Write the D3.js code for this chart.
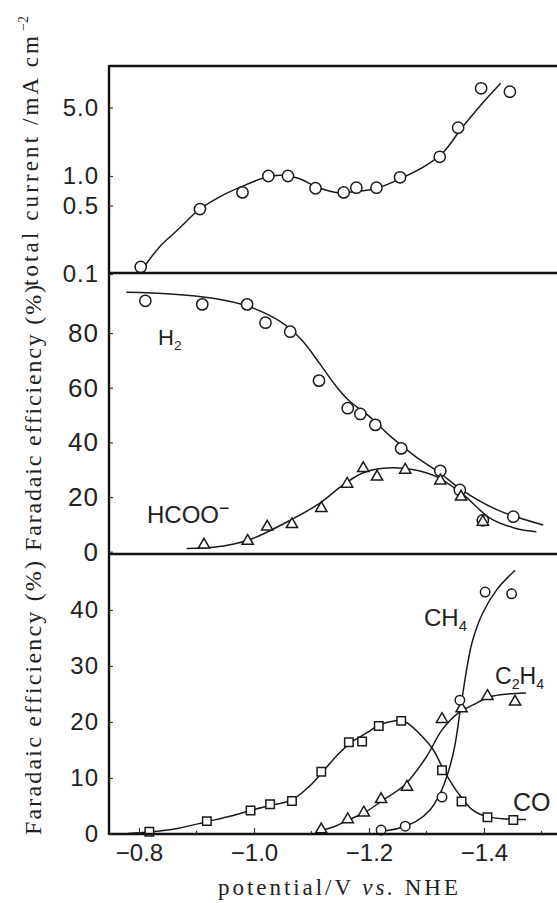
<!DOCTYPE html>
<html>
<head>
<meta charset="utf-8">
<script src="https://cdn.jsdelivr.net/npm/d3@7"></script>
<style>
  body { margin: 0; background: #fff; }
  svg text { fill: #222; }
</style>
</head>
<body>
<svg id="chart" width="557" height="903"></svg>
<script>
// ---- axis ticks ----
const potentialTicks = [-0.8, -1.0, -1.2, -1.4];
const potentialMinorTicks = [-0.9, -1.1, -1.3, -1.5];
const currentTicks = [0.1, 0.5, 1.0, 5.0];
const currentTickLabels = ["0.1", "0.5", "1.0", "5.0"];
const feUpperTicks = [0, 20, 40, 60, 80];
const feLowerTicks = [0, 10, 20, 30, 40];

// ---- total current (mA cm^-2) ----
const currentPotential = [-0.803, -0.906, -0.980, -1.025, -1.059, -1.107, -1.156, -1.178, -1.213, -1.254, -1.323, -1.355, -1.395, -1.445];
const currentValue     = [0.118, 0.46, 0.68, 1.0, 1.0, 0.75, 0.68, 0.76, 0.76, 0.97, 1.57, 3.11, 7.85, 7.25];
const currentFitPotential = [-0.805, -0.836, -0.867, -0.904, -0.941, -0.978, -1.015, -1.046, -1.077, -1.108, -1.145, -1.176, -1.213, -1.256, -1.300, -1.330, -1.361, -1.392, -1.429];
const currentFitValue     = [0.110, 0.190, 0.281, 0.450, 0.615, 0.778, 0.947, 1.02, 0.947, 0.778, 0.676, 0.692, 0.749, 0.947, 1.29, 1.77, 3.07, 5.10, 8.83];

// ---- Faradaic efficiency: H2 and formate ----
const h2Potential = [-0.811, -0.910, -0.988, -1.020, -1.063, -1.113, -1.163, -1.185, -1.211, -1.256, -1.324, -1.358, -1.398, -1.451];
const h2Value     = [91.8, 90.5, 90.5, 83.8, 80.5, 62.6, 52.5, 50.4, 46.4, 37.8, 29.6, 22.6, 11.5, 12.8];
const h2FitPotential = [-0.778, -0.855, -0.929, -0.991, -1.046, -1.083, -1.114, -1.139, -1.164, -1.201, -1.238, -1.281, -1.324, -1.361, -1.423, -1.503];
const h2FitValue     = [94.9, 94.3, 92.7, 89.7, 84.2, 77.5, 68.9, 61.6, 55.5, 49.4, 42.1, 34.8, 28.7, 22.6, 15.3, 9.8];

const formatePotential = [-0.913, -0.989, -1.023, -1.066, -1.117, -1.162, -1.190, -1.214, -1.263, -1.324, -1.360, -1.398];
const formateValue     = [2.5, 3.9, 9.1, 10.0, 15.9, 24.8, 30.5, 27.4, 29.9, 26.0, 20.1, 10.9];
const formateFitPotential = [-0.883, -0.929, -0.991, -1.053, -1.114, -1.151, -1.188, -1.225, -1.275, -1.318, -1.361, -1.411, -1.454, -1.491];
const formateFitValue     = [1.2, 1.6, 4.3, 10.4, 17.7, 23.8, 28.7, 30.5, 30.1, 27.4, 21.4, 12.2, 8.6, 7.3];

// ---- Faradaic efficiency: CO, C2H4, CH4 ----
const coPotential = [-0.818, -0.918, -0.994, -1.028, -1.066, -1.117, -1.165, -1.188, -1.217, -1.256, -1.327, -1.361, -1.406, -1.451];
const coValue     = [0.4, 2.3, 4.2, 5.3, 5.9, 11.1, 16.4, 16.5, 19.3, 20.2, 11.4, 5.8, 3.0, 2.5];
const coFitPotential = [-0.781, -0.818, -0.867, -0.918, -0.960, -0.994, -1.028, -1.066, -1.096, -1.117, -1.145, -1.167, -1.195, -1.219, -1.244, -1.262, -1.287, -1.312, -1.330, -1.355, -1.380, -1.405, -1.451, -1.473];
const coFitValue     = [0.1, 0.36, 1.0, 2.2, 3.2, 4.2, 5.1, 6.1, 8.5, 10.8, 14.1, 16.2, 18.0, 19.5, 20.2, 20.1, 18.0, 15.0, 11.4, 7.3, 4.3, 3.1, 2.6, 2.6];

const ethylenePotential = [-1.117, -1.163, -1.191, -1.221, -1.266, -1.327, -1.361, -1.406, -1.454];
const ethyleneValue     = [0.8, 2.6, 3.8, 6.2, 8.4, 20.5, 22.4, 24.6, 23.6];
const ethyleneFitPotential = [-1.108, -1.139, -1.164, -1.195, -1.225, -1.262, -1.300, -1.327, -1.355, -1.380, -1.411, -1.442, -1.473];
const ethyleneFitValue     = [0.4, 1.3, 2.5, 4.0, 6.1, 8.75, 13.8, 18.6, 21.6, 23.0, 24.5, 25.0, 25.2];

const methanePotential = [-1.221, -1.263, -1.327, -1.358, -1.402, -1.448];
const methaneValue     = [0.7, 1.4, 6.6, 23.9, 43.2, 42.9];
const methaneFitPotential = [-1.213, -1.250, -1.281, -1.306, -1.324, -1.337, -1.349, -1.360, -1.379, -1.398, -1.422, -1.454];
const methaneFitValue     = [0.4, 1.0, 2.2, 4.3, 7.3, 10.8, 15.6, 23.0, 34.1, 39.5, 43.6, 47.1];

// ---- layout ----
const svg = d3.select("#chart");
const left = 109, right = 620;
const panelTop = 66, div1 = 273, div2 = 554, bottom = 834;

const x = d3.scaleLinear().domain([-0.8, -1.4]).range([139, 484]);
const yCurrent = d3.scaleLog().domain([0.1, 10]).range([274, 78]);
const yUpper = d3.scaleLinear().domain([0, 100]).range([551.7, 278.4]);
const yLower = d3.scaleLinear().domain([0, 50]).range([834, 554]);

const zip = (a, b) => a.map((v, i) => [v, b[i]]);
const tickFont = "'Liberation Sans', Arial, sans-serif";
const serifFont = "'Liberation Serif', 'Times New Roman', serif";

// fitted curves
function drawCurve(xs, ys, yScale) {
  const line = d3.line()
    .x(d => x(d[0])).y(d => yScale(d[1]))
    .curve(d3.curveCatmullRom.alpha(0.5));
  svg.append("path")
    .attr("d", line(zip(xs, ys)))
    .attr("fill", "none")
    .attr("stroke", "#1a1a1a")
    .attr("stroke-width", 1.5);
}

// open markers
function drawMarkers(xs, ys, yScale, type, size) {
  const sym = d3.symbol().type(type).size(size);
  svg.append("g").selectAll("path")
    .data(zip(xs, ys))
    .join("path")
    .attr("d", sym)
    .attr("transform", d => `translate(${x(d[0])},${yScale(d[1])})`)
    .attr("fill", "#fff")
    .attr("stroke", "#1a1a1a")
    .attr("stroke-width", 1.5);
}

drawCurve(currentFitPotential, currentFitValue, yCurrent);
drawCurve(h2FitPotential, h2FitValue, yUpper);
drawCurve(formateFitPotential, formateFitValue, yUpper);
drawCurve(coFitPotential, coFitValue, yLower);
drawCurve(ethyleneFitPotential, ethyleneFitValue, yLower);
drawCurve(methaneFitPotential, methaneFitValue, yLower);

drawMarkers(currentPotential, currentValue, yCurrent, d3.symbolCircle, 100);
drawMarkers(h2Potential, h2Value, yUpper, d3.symbolCircle, 100);
drawMarkers(formatePotential, formateValue, yUpper, d3.symbolTriangle, 55);
drawMarkers(coPotential, coValue, yLower, d3.symbolSquare, 72);
drawMarkers(ethylenePotential, ethyleneValue, yLower, d3.symbolTriangle, 55);
drawMarkers(methanePotential, methaneValue, yLower, d3.symbolCircle, 70);

// frame: three stacked panels sharing the left axis
const frame = svg.append("g").attr("stroke", "#111").attr("stroke-width", 2.4).attr("fill", "none");
[panelTop, div1, div2, bottom].forEach(yy => {
  frame.append("line").attr("x1", left).attr("x2", right).attr("y1", yy).attr("y2", yy);
});
frame.append("line").attr("x1", left).attr("x2", left).attr("y1", panelTop - 1).attr("y2", bottom + 1);

// y axes
function yAxis(scale, values, labels, size) {
  const axis = d3.axisLeft(scale).tickValues(values)
    .tickSizeInner(-4).tickSizeOuter(0).tickPadding(10)
    .tickFormat((d, i) => labels ? labels[i] : d);
  const g = svg.append("g").attr("transform", `translate(${left},0)`).call(axis);
  g.select(".domain").remove();
  g.selectAll("line").attr("stroke", "#333").attr("stroke-width", 1.2);
  g.selectAll("text")
    .attr("font-family", tickFont).attr("font-size", size)
    .attr("letter-spacing", 1).attr("fill", "#2a2a2a");
  return g;
}
yAxis(yCurrent, currentTicks, currentTickLabels, 24);
yAxis(yUpper, feUpperTicks, null, 26);
yAxis(yLower, feLowerTicks, null, 24);

// x axis
const xAxis = d3.axisBottom(x).tickValues(potentialTicks)
  .tickSizeInner(-6).tickSizeOuter(0).tickPadding(10)
  .tickFormat(d => "\u2212" + Math.abs(d).toFixed(1));
const gx = svg.append("g").attr("transform", `translate(0,${bottom})`).call(xAxis);
gx.select(".domain").remove();
gx.selectAll("line").attr("stroke", "#333").attr("stroke-width", 1.2);
gx.selectAll("text").attr("font-family", tickFont).attr("font-size", 24).attr("fill", "#2a2a2a");
svg.append("g").selectAll("line").data(potentialMinorTicks).join("line")
  .attr("x1", d => x(d)).attr("x2", d => x(d))
  .attr("y1", bottom).attr("y2", bottom - 3)
  .attr("stroke", "#333").attr("stroke-width", 1.2);

// axis titles
svg.append("text")
  .attr("x", 338).attr("y", 895)
  .attr("text-anchor", "middle")
  .attr("font-family", serifFont).attr("font-size", 23)
  .attr("textLength", 240).attr("lengthAdjust", "spacing")
  .html('potential/V <tspan font-style="italic">vs.</tspan> NHE');

const topTitle = svg.append("text")
  .attr("transform", "translate(38,286) rotate(-90)")
  .attr("font-family", serifFont).attr("font-size", 23);
topTitle.append("tspan").text("total current /mA cm")
  .attr("textLength", 250).attr("lengthAdjust", "spacing");
topTitle.append("tspan").text("\u22122").attr("font-size", 14).attr("dy", -10).attr("dx", 2);

function feTitle(cy, len) {
  svg.append("text")
    .attr("transform", `translate(41,${cy}) rotate(-90)`)
    .attr("text-anchor", "middle")
    .attr("font-family", serifFont).attr("font-size", 24)
    .attr("textLength", len).attr("lengthAdjust", "spacing")
    .text("Faradaic efficiency (%)");
}
feTitle(418, 266);
feTitle(698, 274);

// series labels
function label(px, py, parts, size) {
  const t = svg.append("text").attr("x", px).attr("y", py)
    .attr("font-family", tickFont).attr("font-size", size).attr("fill", "#222");
  parts.forEach(p => {
    const s = t.append("tspan").text(p.t);
    if (p.sub) s.attr("font-size", size * 0.62).attr("dy", 5);
    if (p.sup) s.attr("font-size", size * 0.75).attr("dy", -9);
    if (p.reset) s.attr("dy", p.reset);
  });
}
label(158, 345, [{t: "H"}, {t: "2", sub: true}], 22);
label(147, 523, [{t: "HCOO"}, {t: "\u2212", sup: true}], 24);
label(424, 626, [{t: "CH"}, {t: "4", sub: true}], 24);
label(495, 684, [{t: "C"}, {t: "2", sub: true}, {t: "H", reset: -5}, {t: "4", sub: true}], 23);
label(513, 811, [{t: "CO"}], 25);
</script>
</body>
</html>
